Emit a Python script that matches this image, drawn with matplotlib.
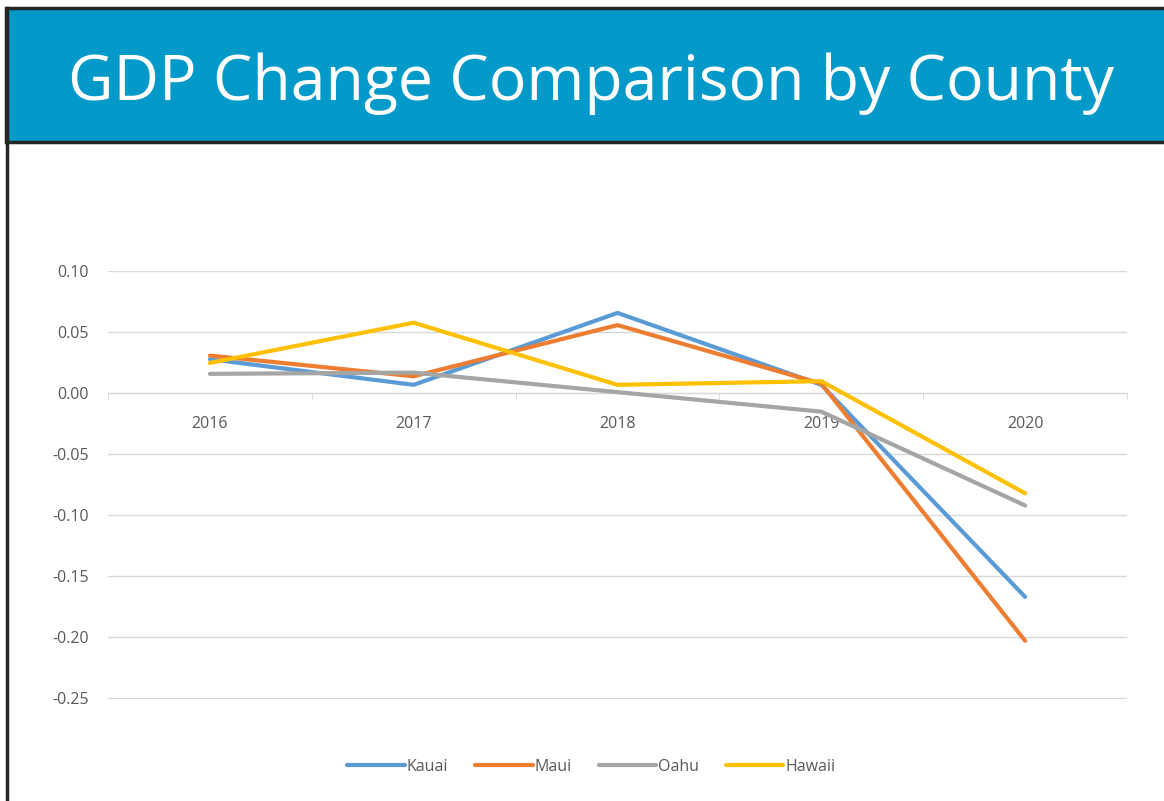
import matplotlib.pyplot as plt
from matplotlib.patches import Rectangle
from matplotlib.lines import Line2D
import numpy as np

# datos
years = ['2016', '2017', '2018', '2019', '2020']
kauai = [0.028, 0.007, 0.066, 0.007, -0.167]
maui = [0.031, 0.014, 0.056, 0.008, -0.203]
oahu = [0.016, 0.017, 0.001, -0.015, -0.092]
hawaii = [0.025, 0.058, 0.007, 0.010, -0.082]
yticks = [0.10, 0.05, 0.00, -0.05, -0.10, -0.15, -0.20, -0.25]

series = [('Kauai', kauai, '#5B9BD5'), ('Maui', maui, '#ED7D31'),
          ('Oahu', oahu, '#A5A5A5'), ('Hawaii', hawaii, '#FFC000')]

plt.rcParams['font.family'] = ['Open Sans', 'DejaVu Sans']

fig = plt.figure(figsize=(11.64, 8.01), dpi=100)
fig.patch.set_facecolor('white')

# banner del titulo
fig.patches.append(Rectangle((6 / 1164, 1 - 142 / 801), 1, 134 / 801, transform=fig.transFigure,
                             facecolor='#0399C9', edgecolor='#262626', linewidth=2.5, zorder=0))
fig.lines.append(Line2D([7 / 1164, 7 / 1164], [0, 1 - 8 / 801], transform=fig.transFigure,
                        color='#262626', linewidth=2.5))
fig.text(0.508, 1 - 84 / 801, 'GDP Change Comparison by County', color='white',
         fontsize=45, ha='center', va='center')

ax = fig.add_axes([108 / 1164, 1 - 699 / 801, 1019 / 1164, 428 / 801])
x = np.arange(len(years))
for name, vals, col in series:
    ax.plot(x, vals, color=col, linewidth=3, label=name, solid_capstyle='round', zorder=3)

ax.set_xlim(-0.5, len(years) - 0.5)
ax.set_ylim(-0.2508, 0.1004)
ax.set_yticks(yticks)
ax.set_yticklabels(['%.2f' % v for v in yticks])
ax.grid(axis='y', color='#D9D9D9', linewidth=1)
ax.set_axisbelow(True)

for s in ['top', 'right', 'left']:
    ax.spines[s].set_visible(False)
ax.spines['bottom'].set_position(('data', 0))
ax.spines['bottom'].set_color('#D9D9D9')

ax.set_xticks(x)
ax.set_xticklabels(years)
ax.set_xticks(np.arange(-0.5, len(years)), minor=True)
ax.tick_params(axis='x', which='major', length=0, pad=16, labelsize=11.5, labelcolor='#595959')
ax.tick_params(axis='x', which='minor', length=5, color='#D9D9D9', direction='out')
ax.tick_params(axis='y', length=0, pad=14, labelsize=11.5, labelcolor='#595959')

fig.legend(loc='center', bbox_to_anchor=(0.508, 1 - 767 / 801), ncol=4, frameon=False,
           fontsize=11.5, handlelength=3.6, handletextpad=0.1, columnspacing=1.7,
           labelcolor='#595959')

plt.savefig('out.png', dpi=100)
